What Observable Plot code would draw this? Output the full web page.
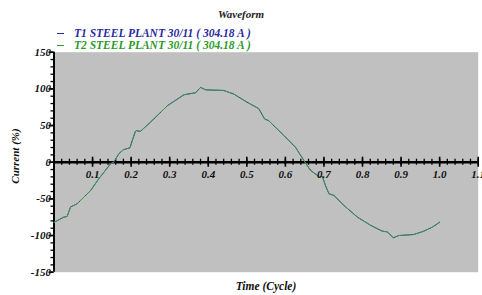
<!DOCTYPE html>
<html>
<head>
<meta charset="utf-8">
<script src="https://cdn.jsdelivr.net/npm/d3@7"></script>
<script src="https://cdn.jsdelivr.net/npm/@observablehq/plot@0.6"></script>
<style>
  html, body { margin: 0; padding: 0; background: #fff; }
  #wrap { position: relative; width: 482px; height: 295px; font-family: "Liberation Serif", "DejaVu Serif", serif; font-weight: bold; font-style: italic; }
  #title { position: absolute; left: 0; width: 482px; top: 8px; text-align: center; font-size: 11px; line-height: 13px; color: #222; }
  .leg { position: absolute; left: 57px; font-size: 11.5px; line-height: 12px; white-space: nowrap; }
  .leg span.sw { display: inline-block; width: 7px; height: 0; border-top: 1.3px solid currentColor; vertical-align: middle; margin-right: 10px; position: relative; top: -1px; }
  #xlabel { position: absolute; left: 0; width: 532px; top: 280px; text-align: center; font-size: 11.5px; line-height: 13px; color: #111; }
  #ylabel { position: absolute; left: 15px; top: 156px; transform: translate(-50%, -50%) rotate(-90deg); font-size: 11px; line-height: 12px; color: #111; white-space: nowrap; }
  svg { position: absolute; left: 0; top: 0; }
</style>
</head>
<body>
<div id="wrap">
  <div id="title">Waveform</div>
  <div class="leg" id="leg1" style="top:27px;color:#2a2aa0"><span class="sw"></span>T1 STEEL PLANT 30/11 ( 304.18 A )</div>
  <div class="leg" id="leg2" style="top:39px;color:#2a9a2a"><span class="sw"></span>T2 STEEL PLANT 30/11 ( 304.18 A )</div>
  <div id="xlabel">Time (Cycle)</div>
  <div id="ylabel">Current (%)</div>
</div>
<script>
// Waveform samples (time in cycles, current in %)
const time = [0, 0.025, 0.034, 0.043, 0.051, 0.06, 0.095, 0.116, 0.147, 0.155, 0.168, 0.18, 0.197, 0.203, 0.211, 0.214, 0.224, 0.25, 0.294, 0.337, 0.367, 0.38, 0.393, 0.44, 0.466, 0.50, 0.531, 0.546, 0.557, 0.596, 0.626, 0.648, 0.665, 0.687, 0.696, 0.704, 0.713, 0.726, 0.752, 0.787, 0.821, 0.851, 0.864, 0.88, 0.894, 0.933, 0.959, 0.981, 1.0];
const t1Current = [-82, -75, -74, -61, -59, -56.7, -38.6, -22.7, -2, 0, 11.5, 17, 19.6, 29.6, 42, 43, 42, 54.5, 77, 92, 94.6, 102, 98.7, 97.8, 93, 82, 73, 59, 56.5, 36.4, 20.5, 2.3, -11, -19.5, -19.5, -32, -43, -45.4, -59, -75, -86, -94, -95, -103, -100, -98.6, -94, -88.6, -81.8];
const t2Current = [-82, -75, -74, -61, -59, -56.7, -38.6, -22.7, -2, 0, 11.5, 17, 19.6, 29.6, 42, 43, 42, 54.5, 77, 92, 94.6, 102, 98.7, 97.8, 93, 82, 73, 59, 56.5, 36.4, 20.5, 2.3, -11, -19.5, -19.5, -32, -43, -45.4, -59, -75, -86, -94, -95, -103, -100, -98.6, -94, -88.6, -81.8];
const xTicks = [0.1, 0.2, 0.3, 0.4, 0.5, 0.6, 0.7, 0.8, 0.9, 1.0, 1.1];
const xTickLabels = ["0.1", "0.2", "0.3", "0.4", "0.5", "0.6", "0.7", "0.8", "0.9", "1.0", "1.1"];
const yTicks = [-150, -100, -50, 0, 50, 100, 150];
const xMinor = d3.range(0, 56).map(i => i * 0.02);
const yMinor = d3.range(-15, 16).map(i => i * 10);

const t1 = time.map((t, i) => ({t, v: t1Current[i]}));
const t2 = time.map((t, i) => ({t, v: t2Current[i]}));

const font = "Liberation Serif, DejaVu Serif, serif";
const W = 482, H = 295, mL = 53.5, mR = 4.3, mT = 51.7, mB = 23.3;
const pxPerX = (W - mL - mR) / 1.1;
const pxPerY = (H - mT - mB) / 300;

const chart = Plot.plot({
  width: W,
  height: H,
  marginLeft: mL,
  marginRight: mR,
  marginTop: mT,
  marginBottom: mB,
  style: {fontFamily: font, fontWeight: "bold", fontStyle: "italic", fontSize: "11px", background: "transparent", overflow: "visible"},
  x: {domain: [0, 1.1], axis: null},
  y: {domain: [-150, 150], axis: null},
  marks: [
    Plot.frame({fill: "#c0c0c0", stroke: "none"}),
    Plot.ruleY(yMinor, {y: d => d, x1: -3 / pxPerX, x2: 0, stroke: "#000", strokeWidth: 1.3}),
    Plot.ruleY(yTicks, {y: d => d, x1: -5 / pxPerX, x2: 0, stroke: "#000", strokeWidth: 1.6}),
    Plot.ruleX([0], {y1: -150, y2: 150, stroke: "#000", strokeWidth: 2}),
    Plot.ruleY([0], {stroke: "#000", strokeWidth: 2.5}),
    Plot.ruleX(xMinor, {x: d => d, y1: -3 / pxPerY, y2: 3 / pxPerY, stroke: "#000", strokeWidth: 1.3}),
    Plot.ruleX(xTicks, {x: d => d, y1: -5 / pxPerY, y2: 5 / pxPerY, stroke: "#000", strokeWidth: 1.6}),
    Plot.line(t1, {x: "t", y: "v", stroke: "#3333aa", strokeWidth: 1}),
    Plot.line(t2, {x: "t", y: "v", stroke: "#3aa03a", strokeWidth: 1, strokeDasharray: "7,2"}),
    Plot.text(xTicks, {x: d => d, y: 0, text: (d, i) => xTickLabels[i], dy: 12, fill: "#111", fontSize: 11}),
    Plot.text(yTicks, {x: 0, y: d => d, text: d => String(d), textAnchor: "end", dx: -3, fill: "#111", fontSize: 11})
  ]
});
document.getElementById("wrap").prepend(chart);
</script>
</body>
</html>
